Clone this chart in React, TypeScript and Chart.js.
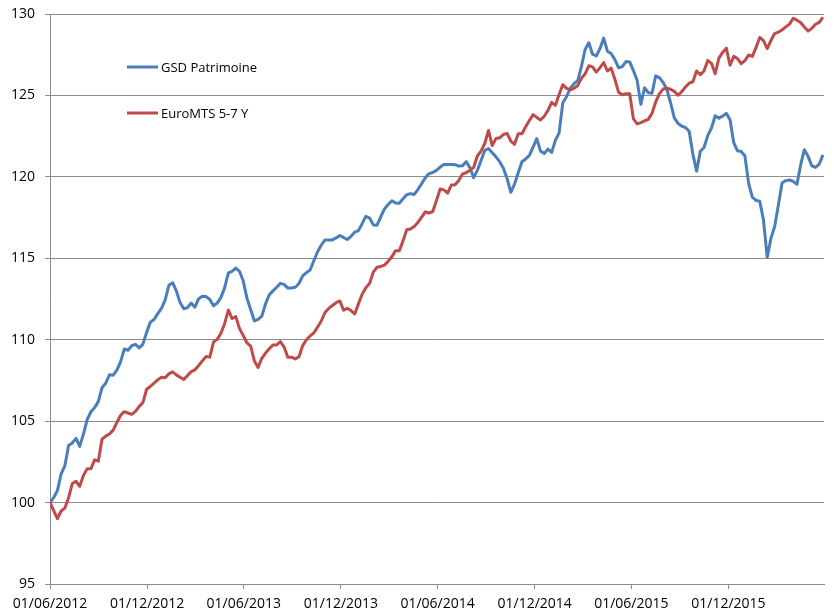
import React, { useEffect, useRef } from 'react';
import { Chart, registerables } from 'chart.js';

Chart.register(...registerables);

// Weekly observations starting on the first date below
const START_DATE = '01/06/2012';
const WEEK_DAYS = 7;
const AXIS_END_DAYS = 1458;

const tickLabels = [
  '01/06/2012', '01/12/2012', '01/06/2013', '01/12/2013',
  '01/06/2014', '01/12/2014', '01/06/2015', '01/12/2015',
];

const seriesNames = ['GSD Patrimoine', 'EuroMTS 5-7 Y'];

const gsdPatrimoine = [
  100.0, 100.31, 100.74, 101.77, 102.26, 103.5, 103.66, 103.94, 103.45, 104.2,
  105.1, 105.57, 105.83, 106.2, 107.05, 107.33, 107.85, 107.82, 108.13, 108.65,
  109.43, 109.35, 109.63, 109.72, 109.5, 109.73, 110.45, 111.08, 111.24, 111.6,
  111.93, 112.45, 113.35, 113.5, 113.0, 112.28, 111.9, 111.97, 112.25, 112.0,
  112.52, 112.67, 112.65, 112.47, 112.08, 112.25, 112.6, 113.2, 114.1, 114.2,
  114.4, 114.2, 113.6, 112.55, 111.85, 111.15, 111.25, 111.45, 112.2, 112.76,
  113.0, 113.22, 113.46, 113.4, 113.17, 113.18, 113.22, 113.45, 113.92, 114.12,
  114.28, 114.85, 115.4, 115.8, 116.13, 116.13, 116.13, 116.25, 116.4, 116.28,
  116.15, 116.35, 116.6, 116.7, 117.13, 117.58, 117.47, 117.05, 117.03, 117.54,
  118.03, 118.3, 118.53, 118.4, 118.38, 118.65, 118.9, 118.97, 118.92, 119.22,
  119.58, 119.95, 120.2, 120.27, 120.4, 120.6, 120.76, 120.76, 120.76, 120.75,
  120.66, 120.68, 120.93, 120.57, 119.95, 120.4, 121.0, 121.62, 121.74, 121.48,
  121.23, 120.93, 120.53, 119.9, 119.05, 119.55, 120.25, 120.93, 121.1, 121.32,
  121.82, 122.35, 121.58, 121.44, 121.7, 121.5, 122.24, 122.7, 124.55, 124.92,
  125.45, 125.72, 125.9, 126.77, 127.82, 128.23, 127.53, 127.42, 127.87, 128.52,
  127.72, 127.57, 127.2, 126.7, 126.77, 127.08, 127.06, 126.52, 125.93, 124.45,
  125.47, 125.17, 125.13, 126.2, 126.1, 125.79, 125.38, 124.55, 123.62, 123.28,
  123.12, 123.03, 122.8, 121.4, 120.35, 121.57, 121.8, 122.53, 123.0, 123.75,
  123.6, 123.73, 123.9, 123.5, 122.1, 121.6, 121.56, 121.3, 119.6, 118.75,
  118.55, 118.5, 117.35, 115.05, 116.22, 116.95, 118.25, 119.62, 119.77, 119.81,
  119.72, 119.54, 120.73, 121.67, 121.26, 120.68, 120.58, 120.78, 121.35,
];

const euroMts57 = [
  100.0, 99.51, 99.02, 99.48, 99.66, 100.3, 101.17, 101.31, 101.0, 101.67,
  102.07, 102.07, 102.62, 102.54, 103.9, 104.08, 104.21, 104.45, 104.92, 105.36,
  105.58, 105.5, 105.42, 105.6, 105.91, 106.14, 106.96, 107.13, 107.33, 107.54,
  107.7, 107.67, 107.9, 108.03, 107.84, 107.7, 107.56, 107.8, 108.04, 108.15,
  108.42, 108.7, 108.97, 108.93, 109.86, 110.02, 110.4, 111.0, 111.82, 111.3,
  111.42, 110.68, 110.26, 109.8, 109.6, 108.7, 108.3, 108.86, 109.18, 109.44,
  109.68, 109.68, 109.88, 109.55, 108.92, 108.93, 108.82, 108.96, 109.64, 110.0,
  110.23, 110.42, 110.77, 111.15, 111.67, 111.92, 112.1, 112.28, 112.38, 111.82,
  111.93, 111.79, 111.58, 112.2, 112.79, 113.19, 113.46, 114.15, 114.45, 114.5,
  114.58, 114.82, 115.09, 115.47, 115.46, 116.07, 116.75, 116.8, 116.95, 117.2,
  117.53, 117.85, 117.78, 117.87, 118.55, 119.26, 119.2, 119.0, 119.5, 119.51,
  119.78, 120.17, 120.26, 120.4, 120.58, 121.28, 121.58, 122.05, 122.85, 121.92,
  122.35, 122.4, 122.6, 122.67, 122.2, 122.0, 122.65, 122.65, 123.08, 123.46,
  123.82, 123.65, 123.49, 123.72, 124.08, 124.57, 124.39, 125.06, 125.66, 125.43,
  125.34, 125.44, 125.6, 126.05, 126.32, 126.82, 126.75, 126.43, 126.7, 127.02,
  126.5, 126.68, 126.0, 125.2, 125.04, 125.1, 125.1, 123.56, 123.25, 123.33,
  123.43, 123.53, 123.9, 124.6, 125.11, 125.39, 125.44, 125.38, 125.25, 125.01,
  125.23, 125.52, 125.75, 125.84, 126.5, 126.28, 126.5, 127.15, 126.97, 126.33,
  127.29, 127.64, 127.9, 126.85, 127.4, 127.26, 126.95, 127.14, 127.48, 127.4,
  127.95, 128.56, 128.36, 127.88, 128.37, 128.8, 128.89, 129.02, 129.21, 129.38,
  129.74, 129.62, 129.48, 129.2, 128.95, 129.12, 129.37, 129.48, 129.8,
];

const BLUE = '#4a7ebb';
const RED = '#be4b48';
const GRID = '#8c8c8c';
const FONT = "'Open Sans', 'Noto Sans', sans-serif";

const DAY_MS = 86400000;
function parseDate(s: string): number {
  const [d, m, y] = s.split('/').map(Number);
  return Date.UTC(y, m - 1, d);
}
const t0 = parseDate(START_DATE);
const dayOf = (s: string) => Math.round((parseDate(s) - t0) / DAY_MS);
const tickDays = tickLabels.map(dayOf);

const toPoints = (vals: number[]) => vals.map((v, i) => ({ x: i * WEEK_DAYS, y: v }));

const insideLegend = {
  id: 'insideLegend',
  afterDatasetsDraw(chart: any) {
    const { ctx, chartArea } = chart;
    const items = [
      { label: seriesNames[0], color: BLUE, y: chartArea.top + 53 },
      { label: seriesNames[1], color: RED, y: chartArea.top + 99 },
    ];
    ctx.save();
    items.forEach((it) => {
      const x0 = chartArea.left + 77;
      ctx.strokeStyle = it.color;
      ctx.lineWidth = 3;
      ctx.lineCap = 'butt';
      ctx.beginPath();
      ctx.moveTo(x0, it.y);
      ctx.lineTo(x0 + 31, it.y);
      ctx.stroke();
      ctx.fillStyle = '#000';
      ctx.font = `13px ${FONT}`;
      ctx.textBaseline = 'middle';
      ctx.textAlign = 'left';
      ctx.fillText(it.label, x0 + 34, it.y + 1);
    });
    ctx.restore();
  },
};

export default function App() {
  const ref = useRef<HTMLCanvasElement | null>(null);

  useEffect(() => {
    if (!ref.current) return;
    const chart = new Chart(ref.current, {
      type: 'line',
      data: {
        datasets: [
          {
            label: seriesNames[1],
            data: toPoints(euroMts57),
            borderColor: RED,
            backgroundColor: RED,
            borderWidth: 3,
            pointRadius: 0,
            tension: 0,
            borderJoinStyle: 'round',
          },
          {
            label: seriesNames[0],
            data: toPoints(gsdPatrimoine),
            borderColor: BLUE,
            backgroundColor: BLUE,
            borderWidth: 3,
            pointRadius: 0,
            tension: 0,
            borderJoinStyle: 'round',
          },
        ],
      },
      options: {
        animation: false,
        responsive: false,
        maintainAspectRatio: false,
        layout: { padding: { top: 14, right: 10, left: 0, bottom: 0 } },
        plugins: {
          legend: { display: false },
          tooltip: { enabled: false },
        },
        scales: {
          x: {
            type: 'linear',
            min: 0,
            max: AXIS_END_DAYS,
            afterFit: (scale: any) => {
              scale.height = 27;
              scale.paddingLeft = 0;
              scale.paddingRight = 0;
            },
            afterBuildTicks: (scale: any) => {
              scale.ticks = tickDays.map((v) => ({ value: v }));
            },
            grid: {
              drawOnChartArea: false,
              drawTicks: true,
              tickLength: 5,
              color: GRID,
            },
            border: { color: GRID, width: 1 },
            ticks: {
              autoSkip: false,
              maxRotation: 0,
              padding: 7,
              color: '#000',
              font: { family: FONT, size: 14 },
              callback: (value: any) => {
                const idx = tickDays.indexOf(Number(value));
                return idx >= 0 ? tickLabels[idx] : '';
              },
            },
          },
          y: {
            min: 95,
            max: 130,
            afterFit: (scale: any) => {
              scale.width = 50;
              scale.paddingTop = 0;
              scale.paddingBottom = 0;
            },
            grid: {
              color: GRID,
              lineWidth: 1,
              drawTicks: true,
              tickLength: 5,
            },
            border: { color: GRID, width: 1 },
            ticks: {
              stepSize: 5,
              padding: 10,
              color: '#000',
              font: { family: FONT, size: 14 },
            },
          },
        },
      },
      plugins: [insideLegend],
    });
    return () => chart.destroy();
  }, []);

  return (
    <div style={{ position: 'fixed', left: 0, top: 0, width: 834, height: 611, background: '#fff' }}>
      <canvas ref={ref} width={834} height={611} style={{ display: 'block' }} />
    </div>
  );
}
